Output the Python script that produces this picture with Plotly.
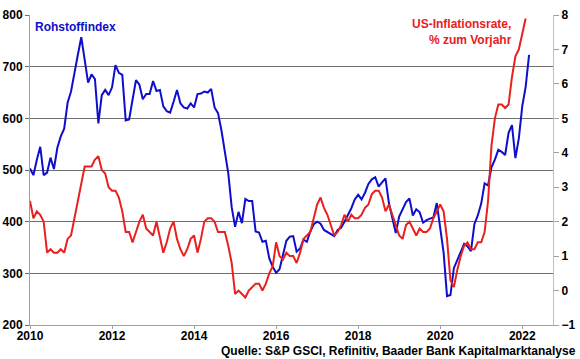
import plotly.graph_objects as go

# S&P GSCI (Rohstoffindex), monthly, Jan 2010 - Mar 2022
rohstoff_2010 = [503, 490, 520, 545, 490, 495, 524, 502, 543, 565, 580, 630]
rohstoff_2011 = [652, 690, 723, 757, 713, 669, 685, 676, 590, 645, 655, 645]
rohstoff_2012 = [660, 703, 688, 684, 596, 598, 636, 674, 665, 637, 647, 647]
rohstoff_2013 = [672, 653, 655, 623, 614, 611, 632, 655, 629, 621, 619, 629]
rohstoff_2014 = [621, 647, 648, 652, 650, 657, 621, 610, 577, 539, 494, 428]
rohstoff_2015 = [390, 419, 397, 444, 440, 440, 381, 379, 361, 363, 329, 313]
rohstoff_2016 = [301, 308, 338, 363, 371, 372, 342, 348, 365, 361, 381, 395]
rohstoff_2017 = [400, 396, 384, 380, 376, 372, 384, 388, 400, 412, 426, 443]
rohstoff_2018 = [452, 443, 456, 473, 482, 486, 468, 476, 484, 436, 405, 378]
rohstoff_2019 = [410, 425, 438, 445, 412, 424, 418, 398, 403, 406, 408, 436]
rohstoff_2020 = [390, 340, 256, 258, 310, 325, 340, 357, 352, 343, 395, 412]
rohstoff_2021 = [435, 474, 470, 505, 520, 539, 535, 529, 572, 587, 523, 561]
rohstoff_2022 = [623, 661, 723]
rohstoff = (rohstoff_2010 + rohstoff_2011 + rohstoff_2012 + rohstoff_2013 + rohstoff_2014
            + rohstoff_2015 + rohstoff_2016 + rohstoff_2017 + rohstoff_2018 + rohstoff_2019
            + rohstoff_2020 + rohstoff_2021 + rohstoff_2022)

# US-Inflationsrate, % zum Vorjahr, monthly, Jan 2010 - Feb 2022
cpi_2010 = [2.6, 2.1, 2.3, 2.2, 2.0, 1.1, 1.2, 1.1, 1.1, 1.2, 1.1, 1.5]
cpi_2011 = [1.6, 2.1, 2.7, 3.2, 3.6, 3.6, 3.6, 3.8, 3.9, 3.5, 3.4, 3.0]
cpi_2012 = [2.9, 2.9, 2.7, 2.3, 1.7, 1.7, 1.4, 1.7, 2.0, 2.2, 1.8, 1.7]
cpi_2013 = [1.6, 2.0, 1.5, 1.1, 1.4, 1.8, 2.0, 1.5, 1.2, 1.0, 1.2, 1.5]
cpi_2014 = [1.6, 1.1, 1.5, 2.0, 2.1, 2.1, 2.0, 1.7, 1.7, 1.7, 1.3, 0.8]
cpi_2015 = [-0.1, 0.0, -0.1, -0.2, 0.0, 0.1, 0.2, 0.2, 0.0, 0.2, 0.5, 0.7]
cpi_2016 = [1.4, 1.0, 0.9, 1.1, 1.0, 1.0, 0.8, 1.1, 1.5, 1.6, 1.7, 2.1]
cpi_2017 = [2.5, 2.7, 2.4, 2.2, 1.9, 1.6, 1.7, 1.9, 2.2, 2.0, 2.2, 2.1]
cpi_2018 = [2.1, 2.2, 2.4, 2.5, 2.8, 2.9, 2.9, 2.7, 2.3, 2.5, 2.2, 1.9]
cpi_2019 = [1.6, 1.5, 1.9, 2.0, 1.8, 1.6, 1.8, 1.7, 1.7, 1.8, 2.1, 2.3]
cpi_2020 = [2.5, 2.3, 1.5, 0.3, 0.1, 0.6, 1.0, 1.3, 1.4, 1.2, 1.2, 1.4]
cpi_2021 = [1.4, 1.7, 2.6, 4.2, 5.0, 5.4, 5.4, 5.3, 5.4, 6.2, 6.8, 7.0]
cpi_2022 = [7.5, 7.9]
inflation = (cpi_2010 + cpi_2011 + cpi_2012 + cpi_2013 + cpi_2014 + cpi_2015 + cpi_2016
             + cpi_2017 + cpi_2018 + cpi_2019 + cpi_2020 + cpi_2021 + cpi_2022)

start_year = 2010
x_rohstoff = [start_year + i / 12 for i in range(len(rohstoff))]
x_inflation = [start_year + i / 12 for i in range(len(inflation))]

year_ticks = [2010, 2012, 2014, 2016, 2018, 2020, 2022]
year_labels = [str(y) for y in year_ticks]
left_ticks = [200, 300, 400, 500, 600, 700, 800]
right_ticks = [-1, 0, 1, 2, 3, 4, 5, 6, 7, 8]

BLUE = "#0E0ECC"
RED = "#E8201E"
FONT = "Liberation Sans, Arial, sans-serif"
bold = dict(family=FONT, size=12, color="black", weight="bold")

fig = go.Figure()
fig.add_trace(go.Scatter(x=x_rohstoff, y=rohstoff, mode="lines", yaxis="y",
                         line=dict(color=BLUE, width=2), name="Rohstoffindex",
                         showlegend=False))
fig.add_trace(go.Scatter(x=x_inflation, y=inflation, mode="lines", yaxis="y2",
                         line=dict(color=RED, width=2), name="US-Inflationsrate",
                         showlegend=False))

fig.update_layout(
    width=580, height=359,
    margin=dict(l=30, r=27, t=15, b=34, autoexpand=False),
    paper_bgcolor="white", plot_bgcolor="white",
    font=dict(family=FONT),
    xaxis=dict(range=[2010, 2022.75], tickvals=year_ticks, ticktext=year_labels,
               showgrid=False, zeroline=False, showline=True, linecolor="#a0a0a0",
               linewidth=1, ticks="outside", ticklen=3, tickcolor="#a0a0a0",
               ticklabelstandoff=-3, tickfont=bold, automargin=False),
    yaxis=dict(range=[200, 800], tickvals=left_ticks, showgrid=True,
               gridcolor="#6e6e6e", gridwidth=1, zeroline=False, showline=True,
               linecolor="#a0a0a0", linewidth=1, ticks="outside", ticklen=4,
               tickcolor="#6e6e6e", tickfont=bold, automargin=False),
    yaxis2=dict(range=[-1, 8], tickvals=right_ticks, overlaying="y", side="right",
                showgrid=False, zeroline=False, showline=True, linecolor="#c0c0c0",
                linewidth=1, ticks="outside", ticklen=5, tickcolor="#a0a0a0",
                tickfont=bold, automargin=False),
    annotations=[
        dict(text="Rohstoffindex", xref="paper", yref="paper", x=0.006, y=0.961,
             xanchor="left", yanchor="middle", showarrow=False,
             font=dict(family=FONT, size=12, color=BLUE, weight="bold")),
        dict(text="US-Inflationsrate,<br>% zum Vorjahr", xref="paper", yref="paper",
             x=0.925, y=0.945, xanchor="right", yanchor="middle", align="right",
             showarrow=False,
             font=dict(family=FONT, size=12, color=RED, weight="bold")),
        dict(text="Quelle: S&P GSCI, Refinitiv, Baader Bank Kapitalmarktanalyse",
             xref="paper", yref="paper", x=1.048, y=-0.084, xanchor="right",
             yanchor="middle", showarrow=False,
             font=dict(family=FONT, size=12, color="black", weight="bold")),
    ],
)

fig.write_html("out.html", config={"displayModeBar": False},
               post_script="document.body.style.margin='0';document.body.style.padding='0';")
